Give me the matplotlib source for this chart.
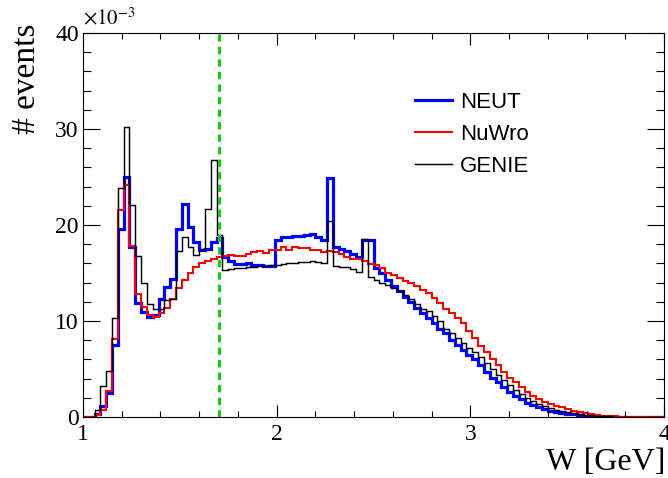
import matplotlib
matplotlib.use("Agg")
import matplotlib.pyplot as plt
import numpy as np

# histogram binning: 100 bins in W from 1 to 4 GeV
w_lo, w_hi, n_bins = 1.0, 4.0, 100

# bin contents, in units of 1e-3
neut = [0, 0, 0.3, 1.1, 2.5, 7.5, 19.6, 25.0, 17.7, 11.9,
        10.9, 10.4, 10.6, 12.3, 13.5, 14.4, 19.6, 22.2, 19.8, 18.2,
        17.4, 17.5, 18.2, 18.6, 16.7, 16.2, 15.9, 15.9, 16.0, 15.8,
        15.8, 15.7, 15.7, 18.4, 18.7, 18.7, 18.9, 18.9, 19.0, 19.1,
        18.8, 18.4, 24.9, 17.7, 17.5, 17.3, 17.0, 16.7, 18.4, 18.4,
        15.5, 15.0, 14.3, 13.6, 13.1, 12.5, 12.0, 11.4, 10.8, 10.3,
        9.8, 9.2, 8.7, 8.0, 7.5, 7.0, 6.5, 6.0, 5.4, 4.7,
        4.1, 3.6, 3.1, 2.6, 2.2, 1.9, 1.5, 1.25, 1.0, 0.83,
        0.65, 0.55, 0.45, 0.35, 0.28, 0.2, 0.15, 0.1, 0.08, 0.05,
        0.04, 0.03, 0.02, 0.02, 0.01, 0.01, 0.01, 0, 0, 0]

nuwro = [0, 0, 0.2, 0.7, 2.7, 8.1, 21.6, 24.2, 17.8, 12.8,
         11.5, 10.6, 10.4, 10.8, 11.4, 12.3, 13.4, 14.3, 15.0, 15.6,
         16.0, 16.3, 16.5, 16.7, 16.8, 16.9, 16.8, 16.8, 17.0, 17.2,
         17.3, 17.1, 17.4, 17.4, 17.7, 17.4, 17.7, 17.6, 17.6, 17.4,
         17.4, 17.2, 17.3, 17.2, 17.0, 16.7, 16.5, 16.5, 16.3, 15.9,
         15.8, 15.5, 15.0, 14.8, 14.5, 14.2, 14.0, 13.6, 13.2, 12.9,
         12.4, 11.9, 11.2, 10.8, 10.3, 9.8, 9.0, 8.2, 7.4, 6.8,
         6.0, 5.4, 4.7, 4.1, 3.6, 3.1, 2.6, 2.2, 1.9, 1.6,
         1.35, 1.15, 1.0, 0.8, 0.65, 0.5, 0.4, 0.3, 0.2, 0.15,
         0.1, 0.07, 0.05, 0.03, 0.02, 0.02, 0.01, 0.01, 0, 0]

genie = [0, 0, 0.7, 3.2, 4.8, 10.3, 23.9, 30.2, 22.1, 16.8,
         14.0, 11.8, 11.2, 11.2, 12.2, 12.3, 17.3, 18.7, 17.7, 16.9,
         17.5, 21.7, 26.8, 19.0, 15.3, 15.4, 15.5, 15.5, 15.6, 15.6,
         15.7, 15.7, 15.8, 15.8, 15.9, 16.0, 16.0, 16.1, 16.1, 16.2,
         16.1, 16.0, 20.4, 15.7, 15.6, 15.6, 15.4, 15.1, 18.5, 14.6,
         14.3, 14.0, 13.8, 13.4, 13.1, 12.7, 12.3, 11.8, 11.3, 11.0,
         10.5, 10.0, 9.2, 8.7, 8.2, 7.7, 7.2, 6.8, 6.3, 5.6,
         5.0, 4.4, 3.9, 3.3, 2.8, 2.4, 2.0, 1.7, 1.35, 1.1,
         0.9, 0.75, 0.6, 0.5, 0.4, 0.3, 0.25, 0.2, 0.15, 0.1,
         0.07, 0.05, 0.03, 0.02, 0.02, 0.01, 0.01, 0, 0, 0]

w_cut = 1.7

edges = np.linspace(w_lo, w_hi, n_bins + 1)

plt.rcParams['font.family'] = 'Liberation Serif'
plt.rcParams['mathtext.fontset'] = 'stix'

fig = plt.figure(figsize=(6.68, 4.78), dpi=100)
ax = fig.add_axes([83/668, 1 - 417/478, 581/668, 384/478])

ax.stairs(neut, edges, color='#0000ff', lw=2.3, label='NEUT')
ax.stairs(nuwro, edges, color='#ff0000', lw=1.5, label='NuWro')
ax.stairs(genie, edges, color='black', lw=1.05, label='GENIE')
ax.axvline(w_cut, color='#11cc11', lw=2.2, dashes=(2.4, 1.7))

ax.set_xlim(w_lo, w_hi)
ax.set_ylim(0, 40)
ax.set_xticks([1, 2, 3, 4])
ax.set_xticks(np.arange(1, 4.01, 0.2), minor=True)
ax.set_yticks([0, 10, 20, 30, 40])
ax.set_yticks(np.arange(0, 40.1, 2), minor=True)
ax.tick_params(which='both', direction='in', top=True, right=True, width=0.8,
               labelsize=17)
ax.tick_params(axis='x', which='major', length=8.6, pad=5)
ax.tick_params(axis='x', which='minor', length=4.3)
ax.tick_params(axis='y', which='major', length=12.3, pad=3)
ax.tick_params(axis='y', which='minor', length=6.1)
for s in ax.spines.values():
    s.set_linewidth(0.8)

fig.text(83/668, 1 - 24/478, r'$\times10^{-3}$', fontsize=15, va='baseline')
fig.text(27/668, 1 - 24/478, '# events', fontsize=24, rotation=90,
         ha='center', va='top')
fig.text(665/668, 1 - 470/478, 'W [GeV]', fontsize=23, ha='right',
         va='baseline')

ax.legend(loc='upper left', bbox_to_anchor=(415/668, 1 - 92/478),
          bbox_transform=fig.transFigure, frameon=False, borderpad=0,
          borderaxespad=0, handlelength=1.67, handletextpad=0.36,
          labelspacing=0.5, prop={'family': 'Liberation Sans', 'size': 16})

fig.savefig('out.png', dpi=100)
